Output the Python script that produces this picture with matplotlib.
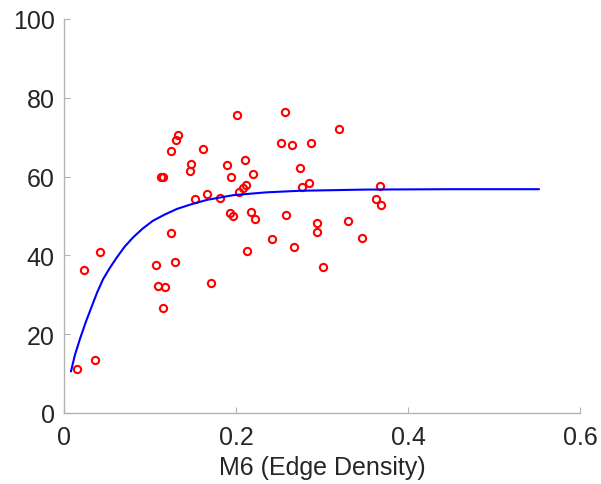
import numpy as np
import matplotlib
matplotlib.use('Agg')
import matplotlib.pyplot as plt

plt.rc('font', family=['Liberation Sans', 'DejaVu Sans'], size=18)

# observed points (edge density, response)
obs_x = [0.015, 0.023, 0.035, 0.041, 0.106, 0.109, 0.117, 0.115, 0.124, 0.129,
         0.171, 0.2125, 0.241, 0.2675, 0.2936, 0.301, 0.346, 0.2008, 0.257, 0.319,
         0.2515, 0.265, 0.287, 0.161, 0.2097, 0.189, 0.274, 0.1934, 0.2195, 0.2846,
         0.2764, 0.2113, 0.2074, 0.2027, 0.367, 0.363, 0.368, 0.1657, 0.1805, 0.1926,
         0.1957, 0.2172, 0.2222, 0.2573, 0.294, 0.3298, 0.1326, 0.1298, 0.1236, 0.1477,
         0.1462, 0.112, 0.115, 0.1524]
obs_y = [11.2, 36.4, 13.5, 40.8, 37.5, 32.2, 31.9, 26.6, 45.7, 38.3,
         32.9, 41.1, 44.2, 42.2, 45.9, 37.0, 44.5, 75.6, 76.5, 72.0,
         68.5, 68.0, 68.5, 66.9, 64.2, 62.9, 62.1, 59.8, 60.6, 58.4,
         57.3, 57.8, 57.2, 56.2, 57.7, 54.3, 52.8, 55.5, 54.5, 50.8,
         50.0, 51.0, 49.3, 50.3, 48.2, 48.7, 70.6, 69.3, 66.4, 63.2,
         61.5, 60.0, 60.0, 54.3]

# fitted curve
fit_x = [0.0076, 0.012, 0.018, 0.025, 0.032, 0.038, 0.045, 0.053, 0.061, 0.070,
         0.080, 0.091, 0.103, 0.117, 0.131, 0.148, 0.166, 0.197, 0.235, 0.274,
         0.35, 0.45, 0.552]
fit_y = [10.6, 14.6, 18.8, 23.2, 27.2, 30.6, 34.0, 36.9, 39.5, 42.2,
         44.6, 46.8, 48.8, 50.4, 51.8, 53.0, 54.1, 55.3, 56.0, 56.4,
         56.7, 56.8, 56.8]

fig = plt.figure(figsize=(6.01, 4.85), dpi=100)
ax = fig.add_axes([0.1073, 0.1464, 0.8577, 0.8124])

ax.plot(obs_x, obs_y, 'o', mfc='none', mec=(1, 0, 0), ms=5.2, mew=1.5)
ax.plot(fit_x, fit_y, '-', color=(0, 0, 1), lw=1.5)

ax.set_xlim(0, 0.6)
ax.set_ylim(0, 100)
ax.set_xticks([0, 0.2, 0.4, 0.6])
ax.set_xticklabels(['0', '0.2', '0.4', '0.6'])
ax.set_yticks([0, 20, 40, 60, 80, 100])
ax.set_xlabel('M6 (Edge Density)', color='#262626', labelpad=4)

for s in ['top', 'right']:
    ax.spines[s].set_visible(False)
for s in ['left', 'bottom']:
    ax.spines[s].set_color('#b3b3b3')
    ax.spines[s].set_linewidth(1.0)
ax.tick_params(direction='in', length=4, width=0.8, color='#b3b3b3',
               labelcolor='#262626')
ax.tick_params(axis='x', pad=9)
ax.tick_params(axis='y', pad=7)

plt.savefig('out.png', dpi=100)
